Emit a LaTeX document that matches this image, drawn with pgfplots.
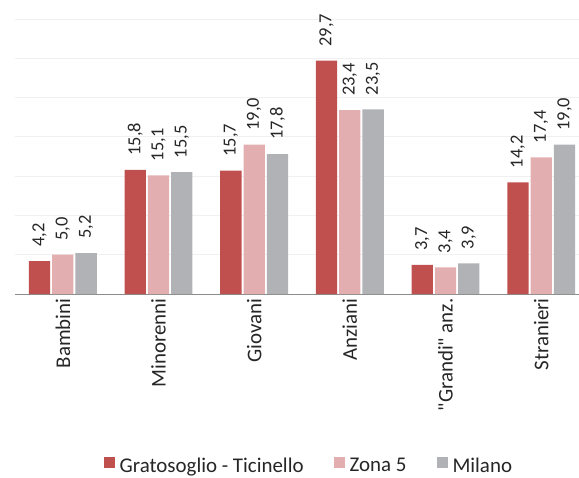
\documentclass[border=0pt]{standalone}
\usepackage{pgfplots}
\pgfplotsset{compat=1.18}
\usepackage{fontspec}
\setmainfont{Carlito}[Ligatures=TeXOff]
\definecolor{cRed}{RGB}{192,80,77}
\definecolor{cPink}{RGB}{227,174,175}
\definecolor{cGray}{RGB}{177,178,182}
\definecolor{cAxis}{RGB}{140,140,140}
\begin{document}
\begin{tikzpicture}
\useasboundingbox (0,0) rectangle (579bp,478bp);
\clip (0,0) rectangle (579bp,478bp);
\begin{axis}[
  at={(15bp,184bp)}, anchor=south west,
  scale only axis, width=574bp, height=275bp,
  xmin=-0.5, xmax=5.5, ymin=0, ymax=35,
  ybar, bar width=0.2225,
  clip=false,
  axis x line*=bottom, axis y line*=left,
  x axis line style={draw=cAxis, line width=0.8pt},
  y axis line style={draw=none},
  xtick={0,1,2,3,4,5},
  xticklabels={Bambini,Minorenni,Giovani,Anziani,{"Grandi" anz.},Stranieri},
  xtick style={draw=none},
  xticklabel style={rotate=90, anchor=east, font=\fontsize{21}{24}\selectfont, inner sep=0pt, text=black!85},
  extra x ticks={-0.5,0.5,1.5,2.5,3.5,4.5},
  extra x tick labels={},
  extra x tick style={tick align=outside, major tick length=5bp, tick style={draw=cAxis, line width=0.8pt}},
  ytick={0,5,...,35},
  yticklabels={},
  ytick style={draw=none},
  ymajorgrids,
  major grid style={draw=gray!12, line width=1pt},
  nodes near coords,
  /pgf/number format/.cd, use comma, fixed, fixed zerofill, precision=1, assume math mode=true,
  /pgfplots/.cd,
  every node near coord/.append style={rotate=90, anchor=west, inner ysep=0pt, inner xsep=14bp, font=\fontsize{18.5}{20}\selectfont, text=black!85},
  legend style={at={(0.512,-0.625)}, anchor=center, draw=none, fill=none, legend columns=3,
    font=\fontsize{21}{24}\selectfont, text=black!85,
    /tikz/every odd column/.append style={column sep=3bp},
    /tikz/every even column/.append style={column sep=28bp}},
  legend image code/.code={\fill[#1] (0bp,-2bp) rectangle (11bp,9bp);},
]
\addplot[fill=cRed, draw=none] coordinates {(0,4.2) (1,15.8) (2,15.7) (3,29.7) (4,3.7) (5,14.2)};
\addplot[fill=cPink, draw=none] coordinates {(0,5.0) (1,15.1) (2,19.0) (3,23.4) (4,3.4) (5,17.4)};
\addplot[fill=cGray, draw=none] coordinates {(0,5.2) (1,15.5) (2,17.8) (3,23.5) (4,3.9) (5,19.0)};
\legend{Gratosoglio - Ticinello,Zona 5,Milano}
\end{axis}
\end{tikzpicture}
\end{document}
